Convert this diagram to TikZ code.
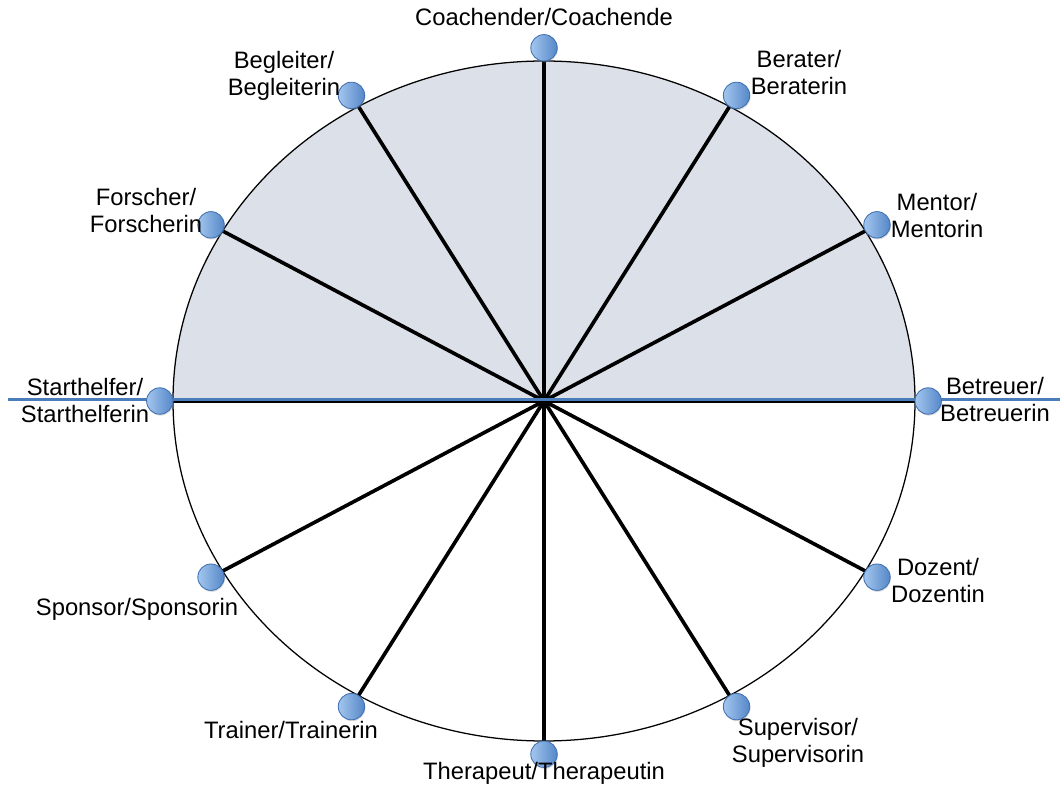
\documentclass[tikz,border=0pt]{standalone}
\usepackage{fontspec}
\setmainfont{Liberation Sans}
\usetikzlibrary{calc, shadows}
\definecolor{halffill}{HTML}{DCE1E9}
\definecolor{axisblue}{HTML}{4A7EBB}
\definecolor{dotlight}{HTML}{A3C6EE}
\definecolor{dotdark}{HTML}{5587C8}
\definecolor{dotedge}{HTML}{3E70B2}
\tikzset{
  rim/.style={draw, line width=0.9pt},
  spoke/.style={line width=2.6pt},
  blueaxis/.style={draw=axisblue, line width=2.3pt},
  roledot/.style={circle, draw=dotedge, line width=0.6pt, left color=dotlight, right color=dotdark,
    inner sep=0pt, minimum size=0.66cm, drop shadow={opacity=0.3, shadow xshift=0.5pt, shadow yshift=-1pt}},
  lbl/.style={align=center, inner sep=0pt, font=\fontsize{16.9pt}{19.2pt}\selectfont},
}
\begin{document}
\begin{tikzpicture}[x=0.025cm, y=-0.025cm]
    \useasboundingbox (0,0) rectangle (1060,793);
    \coordinate (hub) at (544,401);
    \coordinate (bl-w) at (8,399.5);
    \coordinate (bl-e) at (1060,399.5);
    % upper half and outline
    \fill[halffill] ($(hub)+(371,0)$) arc[start angle=0, end angle=-180, x radius=371, y radius=340] -- cycle;
    \draw[rim] (hub) ellipse[x radius=371, y radius=340];
    % spokes
    \foreach \a/\n in {0/betreuer, -30/mentor, -60/berater, -90/coach, -120/begleiter, -150/forscher,
        -180/start, -210/sponsor, -240/trainer, -270/therapeut, -300/dozent, -330/super} {
      \coordinate (r-\n) at ($(hub)+(\a:371 and 340)$);
      \draw[spoke] (hub) -- (r-\n);
    }
    \draw[blueaxis] (bl-w) -- (bl-e);
    \foreach \n in {betreuer, mentor, berater, coach, begleiter, forscher,
        start, sponsor, trainer, therapeut, dozent, super}
      \node[roledot] (d-\n) at ($(r-\n)!-0.33cm!(hub)$) {};
    % labels
    \node[lbl, anchor=base] (l-coach) at (544,26) {Coachender/Coachende};
    \node[lbl] (l-begleiter) at (284,76) {Begleiter/\\Begleiterin};
    \node[lbl] (l-berater) at (799,73) {Berater/\\Beraterin};
    \node[lbl] (l-forscher) at (146,211) {Forscher/\\Forscherin};
    \node[lbl] (l-mentor) at (937,216) {Mentor/\\Mentorin};
    \node[lbl] (l-start) at (85,401) {Starthelfer/\\Starthelferin};
    \node[lbl] (l-betreuer) at (995,400) {Betreuer/\\Betreuerin};
    \node[lbl, anchor=base] (l-sponsor) at (137,615) {Sponsor/Sponsorin};
    \node[lbl] (l-dozent) at (938,581) {Dozent/\\Dozentin};
    \node[lbl, anchor=base] (l-trainer) at (291,738) {Trainer/Trainerin};
    \node[lbl] (l-super) at (798,743) {Supervisor/\\Supervisorin};
    \node[lbl, anchor=base] (l-therapeut) at (544,779) {Therapeut/Therapeutin};
  \end{tikzpicture}
\end{document}
